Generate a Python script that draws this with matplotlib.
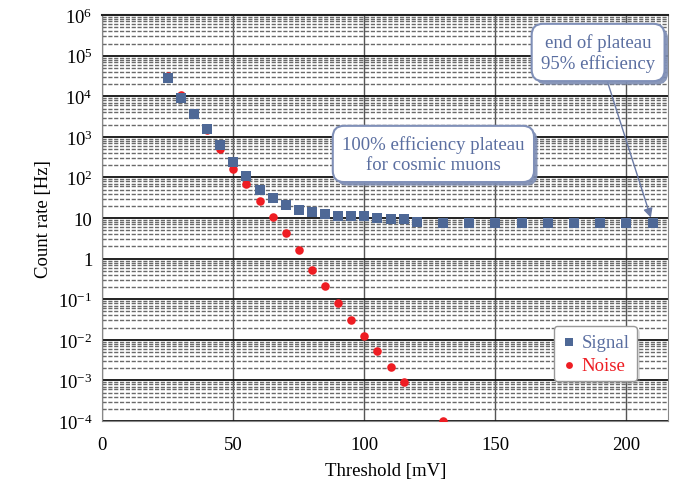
import matplotlib
matplotlib.use("Agg")
import matplotlib.pyplot as plt
from matplotlib.ticker import FixedLocator, LogLocator, NullFormatter
import matplotlib.patheffects as pe

plt.rcParams['font.family'] = ['Liberation Serif', 'DejaVu Serif']
plt.rcParams['mathtext.fontset'] = 'custom'
plt.rcParams['mathtext.rm'] = 'Liberation Serif'
plt.rcParams['mathtext.it'] = 'Liberation Serif'

# Data
signal_x = [25, 30, 35, 40, 45, 50, 55, 60, 65, 70, 75, 80, 85, 90, 95, 100,
            105, 110, 115, 120, 130, 140, 150, 160, 170, 180, 190, 200, 210]
signal_y = [2.8e4, 8.9e3, 3.6e3, 1.55e3, 640, 245, 107, 50, 31, 21, 16, 14.5,
            12.5, 11.5, 11, 11, 9.8, 9.5, 9.5, 8.1, 7.6, 7.6, 7.6, 7.6, 7.6,
            7.6, 7.6, 7.6, 7.6]
noise_x = [25, 30, 35, 40, 45, 50, 55, 60, 65, 70, 75, 80, 85, 90, 95, 100,
           105, 110, 115, 130]
noise_y = [3.2e4, 1.05e4, 3.6e3, 1.5e3, 500, 166, 71, 27, 10.7, 4.3, 1.6, 0.53,
           0.21, 0.082, 0.031, 0.0126, 0.0052, 0.0021, 0.00093, 1.0e-4]

y_ticks = [1e-4, 1e-3, 1e-2, 1e-1, 1, 10, 1e2, 1e3, 1e4, 1e5, 1e6]
y_ticklabels = [r'$10^{-4}$', r'$10^{-3}$', r'$10^{-2}$', r'$10^{-1}$', '1', '10',
                r'$10^{2}$', r'$10^{3}$', r'$10^{4}$', r'$10^{5}$', r'$10^{6}$']
x_ticks = [0, 50, 100, 150, 200]

sig_color = '#4e6896'
noise_color = '#ee1d23'
text_blue = '#5a6ea0'

fig = plt.figure(figsize=(6.73, 4.89), dpi=100)
ax = fig.add_axes([0.152, 0.137, 0.841, 0.830])
ax.set_yscale('log')
ax.set_ylim(1e-4, 1e6)
ax.set_xlim(0, 216)

# grid
ax.yaxis.set_major_locator(FixedLocator(y_ticks))
ax.yaxis.set_minor_locator(LogLocator(base=10, subs=range(2, 10), numticks=20))
ax.yaxis.set_minor_formatter(NullFormatter())
ax.set_yticks(y_ticks)
ax.set_yticklabels(y_ticklabels)
ax.set_xticks(x_ticks)
ax.grid(True, which='major', axis='y', color='#111111', lw=1.3)
ax.grid(True, which='minor', axis='y', color='#6a6a6a', lw=1.0, ls=(0, (3, 1.2)))
ax.grid(True, which='major', axis='x', color='#555555', lw=1.0)
ax.set_axisbelow(True)
ax.tick_params(which='both', length=0, labelsize=13.5, pad=7)
ax.tick_params(axis='x', pad=11)
for s in ax.spines.values():
    s.set_color('#888888')
ax.spines['top'].set_color('#222222')
ax.spines['top'].set_linewidth(1.5)

ax.scatter(noise_x, noise_y, marker='o', s=38, color=noise_color, zorder=3, label='Noise', linewidths=0)
ax.scatter(signal_x, signal_y, marker='s', s=48, color=sig_color, zorder=4, label='Signal', linewidths=0)

ax.set_xlabel('Threshold [mV]', fontsize=13.5, labelpad=6)
ax.set_ylabel('Count rate [Hz]', fontsize=13.5, labelpad=4)

shadow = [pe.SimplePatchShadow(offset=(2.5, -2.5), shadow_rgbFace='#7d8db3', alpha=0.9), pe.Normal()]
bbox = dict(boxstyle='round,pad=0.5,rounding_size=0.6', fc='white', ec='#8090b8', lw=1.5)
t1 = ax.annotate('100% efficiency plateau\nfor cosmic muons', xy=(0.585, 0.658), xycoords='axes fraction',
                 ha='center', va='center', fontsize=13.5, color=text_blue, bbox=bbox,
                 linespacing=1.2, zorder=6)
t2 = ax.annotate('end of plateau\n95% efficiency', xy=(210, 7.6), xycoords='data',
                 xytext=(0.876, 0.908), textcoords='axes fraction',
                 ha='center', va='center', fontsize=13.5, color=text_blue, bbox=bbox,
                 linespacing=1.2, zorder=6,
                 arrowprops=dict(arrowstyle='-|>', color='#6a7aa5', lw=1.0, shrinkA=0, shrinkB=4))
for t in (t1, t2):
    t.get_bbox_patch().set_path_effects(shadow)

h, l = ax.get_legend_handles_labels()
leg = ax.legend([h[1], h[0]], [l[1], l[0]], loc='lower right', bbox_to_anchor=(0.945, 0.098),
                borderaxespad=0,
                fontsize=13.5, frameon=True, fancybox=True, framealpha=1, edgecolor='#999999',
                handletextpad=0.3, handlelength=0.8, borderpad=0.4, markerscale=0.8,
                labelspacing=0.3)
leg.get_frame().set_path_effects([pe.SimplePatchShadow(offset=(2, -2), shadow_rgbFace='#999999'), pe.Normal()])
for t, c in zip(leg.get_texts(), [text_blue, noise_color]):
    t.set_color(c)
leg.set_zorder(7)

fig.savefig('out.png', dpi=100)
